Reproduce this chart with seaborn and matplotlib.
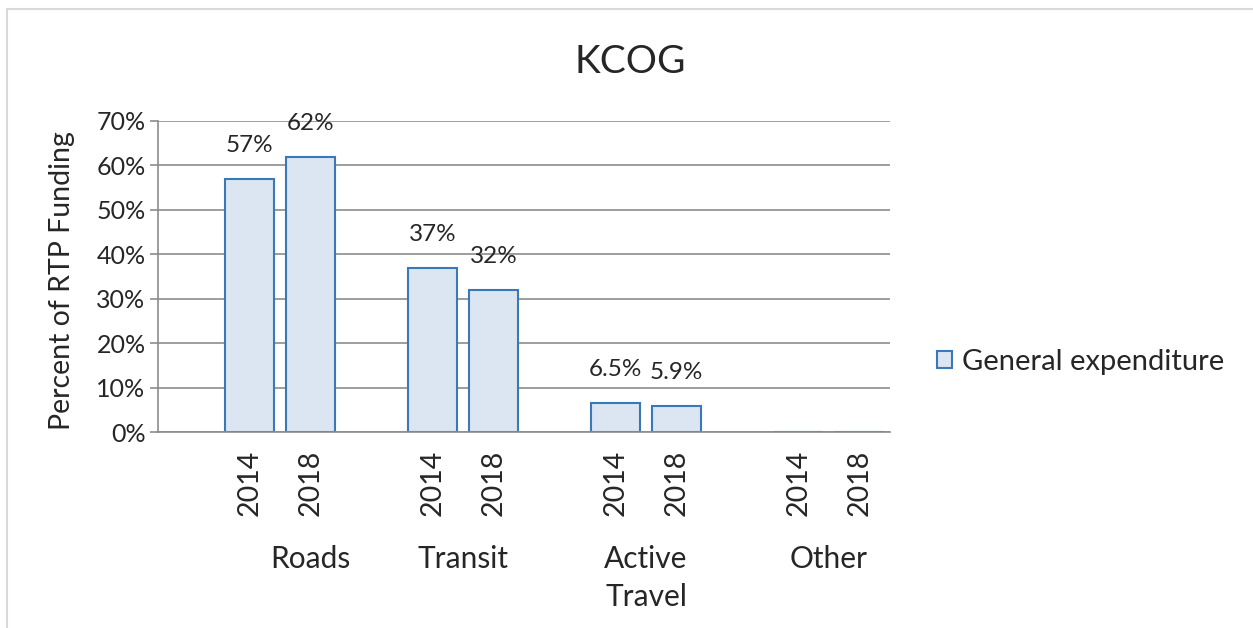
import pandas as pd
import seaborn as sns
import matplotlib.pyplot as plt
from matplotlib.patches import Patch, Rectangle

# data
groups = ["Roads", "Transit", "Active\nTravel", "Other"]
years = ["2014", "2018"]
values_2014 = [57, 37, 6.5, 0]
values_2018 = [62, 32, 5.9, 0]
labels_2014 = ["57%", "37%", "6.5%", ""]
labels_2018 = ["62%", "32%", "5.9%", ""]
yticks = [0, 10, 20, 30, 40, 50, 60, 70]
series_name = "General expenditure"

fill = "#dce6f2"
edge = "#3a78b8"
grid = "#8c8c8c"

rows = []
order = []
for g, v14, v18, l14, l18 in zip(groups, values_2014, values_2018, labels_2014, labels_2018):
    order += [g + "|gap", g + "|2014", g + "|2018"]
    rows.append({"slot": g + "|2014", "group": g, "year": "2014", "value": v14, "label": l14})
    rows.append({"slot": g + "|2018", "group": g, "year": "2018", "value": v18, "label": l18})
df = pd.DataFrame(rows)

sns.set_style("white")
plt.rcParams["font.family"] = ["Lato", "DejaVu Sans"]

fig = plt.figure(figsize=(12.53, 6.28), dpi=100)
ax = fig.add_axes([158 / 1253, 1 - 432 / 628, 732 / 1253, 311 / 628])

sns.barplot(data=df, x="slot", y="value", order=order, width=0.8, color=fill,
            saturation=1, edgecolor=edge, linewidth=1.5, errorbar=None, ax=ax)

ax.set_ylim(0, 70)
ax.set_xlim(-0.5, len(order) - 0.5)
ax.set_yticks(yticks)
ax.set_yticklabels([f"{t}%" for t in yticks], fontsize=18)
ax.yaxis.grid(True, color=grid, linewidth=1.2)
ax.set_axisbelow(True)

# year tick labels under each bar
pos = [order.index(s) for s in df["slot"]]
ax.set_xticks(pos)
ax.set_xticklabels(df["year"], rotation=90, fontsize=20.5)
ax.tick_params(axis="x", length=0, pad=13)
ax.tick_params(axis="y", length=6, width=1.2, color=grid, left=True, pad=3)
ax.set_xlabel("")
ax.set_ylabel("Percent of RTP Funding", fontsize=20.5)
ax.yaxis.set_label_coords(-0.113, 0.486)

for s in ["top", "right"]:
    ax.spines[s].set_visible(False)
for s in ["left", "bottom"]:
    ax.spines[s].set_color(grid)
    ax.spines[s].set_linewidth(1.2)

# value labels
for p, v, lab in zip(pos, df["value"], df["label"]):
    if lab:
        ax.annotate(lab, (p, v), xytext=(0, 24), textcoords="offset points",
                    ha="center", va="center", fontsize=17.5)

# group labels
group_x = [2.0, 4.5, 7.5, 10.5]
for g, gx in zip(groups, group_x):
    ax.annotate(g, (gx, 0), xycoords=("data", "axes fraction"), xytext=(0, -81),
                textcoords="offset points", ha="center", va="top", fontsize=21.5,
                linespacing=1.45)

fig.text(0.503, 1 - 62 / 628, "KCOG", ha="center", va="center", fontsize=28)

handle = Patch(facecolor=fill, edgecolor=edge, linewidth=1.5)
fig.legend(handles=[handle], labels=[series_name], loc="center left",
           bbox_to_anchor=(911 / 1253, 1 - 362 / 628), frameon=False, fontsize=21,
           handlelength=0.5, handleheight=0.5, handletextpad=0.35)

# chart border
fig.patches.append(Rectangle((7 / 1253, -0.05), 1.1, 1.05 - 9 / 628,
                             transform=fig.transFigure, fill=False,
                             edgecolor="#d9d9d9", linewidth=1.5))

fig.savefig("out.png", dpi=100)
